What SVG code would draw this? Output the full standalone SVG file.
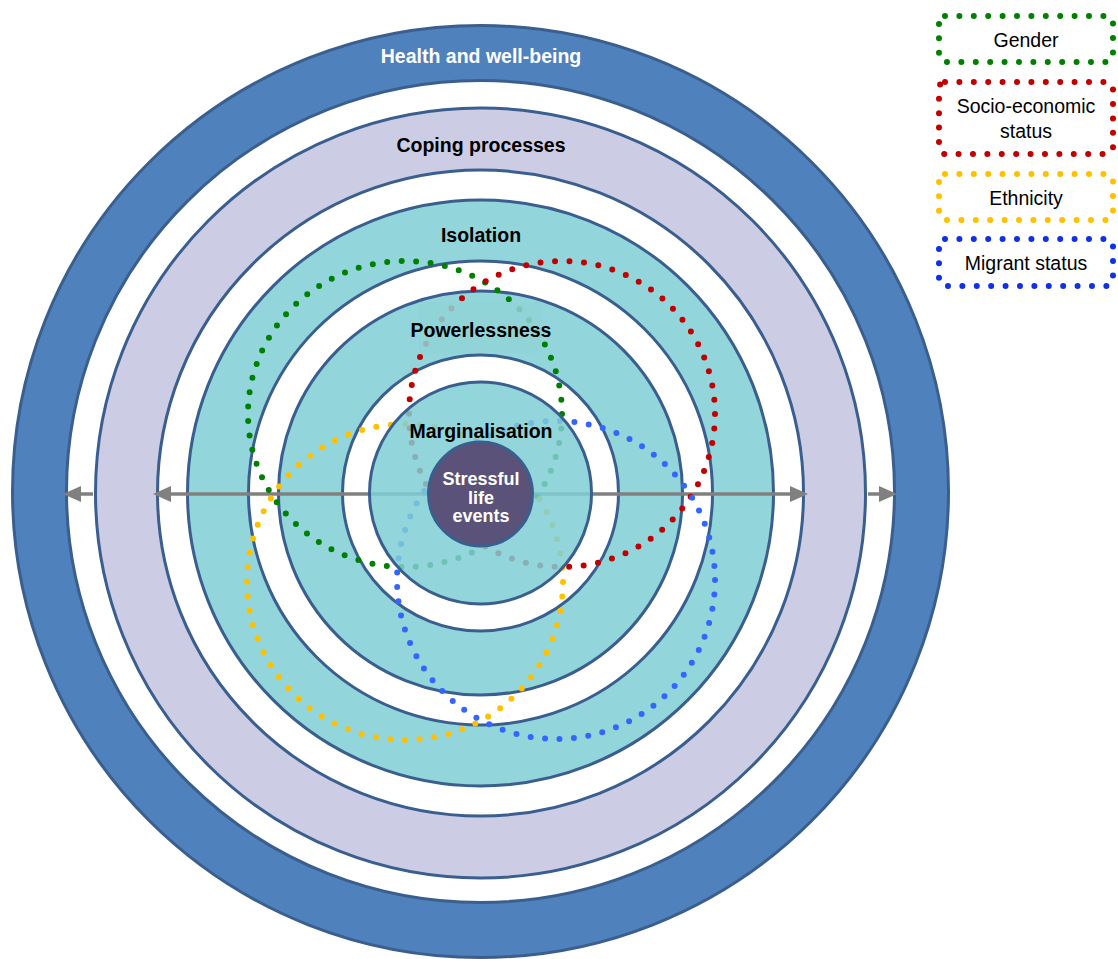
<svg xmlns="http://www.w3.org/2000/svg" width="1118" height="959" viewBox="0 0 1118 959">
  <defs>
    <style>
      .ring { stroke: #3A5F8E; stroke-width: 3; }
      .teal { fill: #92D5DB; }
      .lbl { font-family: "Liberation Sans", Arial, sans-serif; font-weight: bold; font-size: 19.5px; text-anchor: middle; fill: #000; }
      .lbl-w { fill: #fff; }
      .core { font-size: 18px; }
      .arr { stroke: #808080; stroke-width: 3.5; fill: none; }
      .dots { fill: none; stroke-width: 6; stroke-linecap: round; }
      .leg { fill: #fff; stroke-width: 6; stroke-linecap: round; stroke-dasharray: 0 14.4; }
      .legt { font-family: "Liberation Sans", Arial, sans-serif; font-size: 19.5px; text-anchor: middle; fill: #000; }
    </style>
    <marker id="ah" viewBox="0 0 18 16" refX="11" refY="8" markerWidth="18" markerHeight="16" markerUnits="userSpaceOnUse" orient="auto-start-reverse">
      <path d="M0,0 L18,8 L0,16 Z" fill="#808080"/>
    </marker>
  </defs>

  <rect width="1118" height="959" fill="#fff"/>

  <!-- outer band -->
  <g id="health">
    <ellipse cx="480.5" cy="491.5" rx="468" ry="466" fill="#4F81BD" class="ring"/>
    <ellipse cx="480.5" cy="491.5" rx="414" ry="411" fill="#fff" class="ring"/>
    <text x="481" y="63" class="lbl lbl-w">Health and well-being</text>
  </g>

  <g id="coping">
    <circle cx="480.5" cy="493" r="385" fill="#CCCCE4" class="ring"/>
    <circle cx="480.5" cy="493" r="323" fill="#fff" class="ring"/>
    <text x="481" y="152" class="lbl">Coping processes</text>
  </g>

  <g id="isolation">
    <circle cx="480.5" cy="493" r="293" class="ring teal"/>
    <circle cx="480.5" cy="493" r="232" fill="#fff" class="ring"/>
    <text x="481" y="242" class="lbl">Isolation</text>
  </g>

  <g id="powerlessness-ring">
    <circle cx="480.5" cy="493" r="202" class="ring teal"/>
    <circle cx="480.5" cy="493" r="138" fill="#fff" class="ring"/>
  </g>

  <!-- arrows -->
  <g id="connectors">
    <line x1="160" y1="494" x2="801" y2="494" class="arr" marker-start="url(#ah)" marker-end="url(#ah)"/>
    <line x1="93" y1="494" x2="70" y2="494" class="arr" marker-end="url(#ah)"/>
    <line x1="868" y1="494" x2="890" y2="494" class="arr" marker-end="url(#ah)"/>
  </g>

  <!-- dotted factor outlines -->
  <g id="factor-outlines">
    <ellipse id="gender-outline" cx="405" cy="414" rx="157" ry="153" class="dots" stroke="#008000" stroke-dasharray="0 14.536"/>
    <circle id="ses-outline" cx="562" cy="414" r="153" class="dots" stroke="#C00000" stroke-dasharray="0 14.565"/>
    <circle id="ethnicity-outline" cx="405" cy="582" r="158" class="dots" stroke="#FFC000" stroke-dasharray="0 14.6"/>
    <circle id="migrant-outline" cx="556" cy="580" r="159" class="dots" stroke="#3366FF" stroke-dasharray="0 14.48"/>
  </g>

  <!-- translucent disc: outlines beneath show through faintly -->
  <g id="marginalisation">
    <circle cx="480.5" cy="493" r="111" fill="#7FCED5" fill-opacity="0.85" class="ring"/>
    <text x="481" y="438" class="lbl">Marginalisation</text>
  </g>

  <g id="stressful-life-events">
    <circle cx="480.5" cy="494" r="52" fill="#5B5279" class="ring"/>
    <text x="481" y="485" class="lbl lbl-w core">Stressful</text>
    <text x="481" y="503.5" class="lbl lbl-w core">life</text>
    <text x="481" y="522" class="lbl lbl-w core">events</text>
  </g>

  <g id="powerlessness">
    <rect x="419" y="302" width="123" height="51" fill="#8FD4D6" fill-opacity="0.85"/>
    <text x="481" y="337" class="lbl">Powerlessness</text>
  </g>

  <!-- legend -->
  <g id="legend-gender">
    <rect x="939" y="16" width="174" height="46" rx="6" class="leg" stroke="#008000"/>
    <text x="1026" y="47" class="legt">Gender</text>
  </g>
  <g id="legend-ses">
    <rect x="939" y="82" width="174" height="72" rx="6" class="leg" stroke="#C00000"/>
    <text x="1026" y="113" class="legt">Socio-economic</text>
    <text x="1026" y="138" class="legt">status</text>
  </g>
  <g id="legend-ethnicity">
    <rect x="939" y="174" width="174" height="46" rx="6" class="leg" stroke="#FFC000"/>
    <text x="1026" y="205" class="legt">Ethnicity</text>
  </g>
  <g id="legend-migrant">
    <rect x="939" y="239" width="174" height="47" rx="6" class="leg" stroke="#1030E8"/>
    <text x="1026" y="270" class="legt">Migrant status</text>
  </g>
</svg>
